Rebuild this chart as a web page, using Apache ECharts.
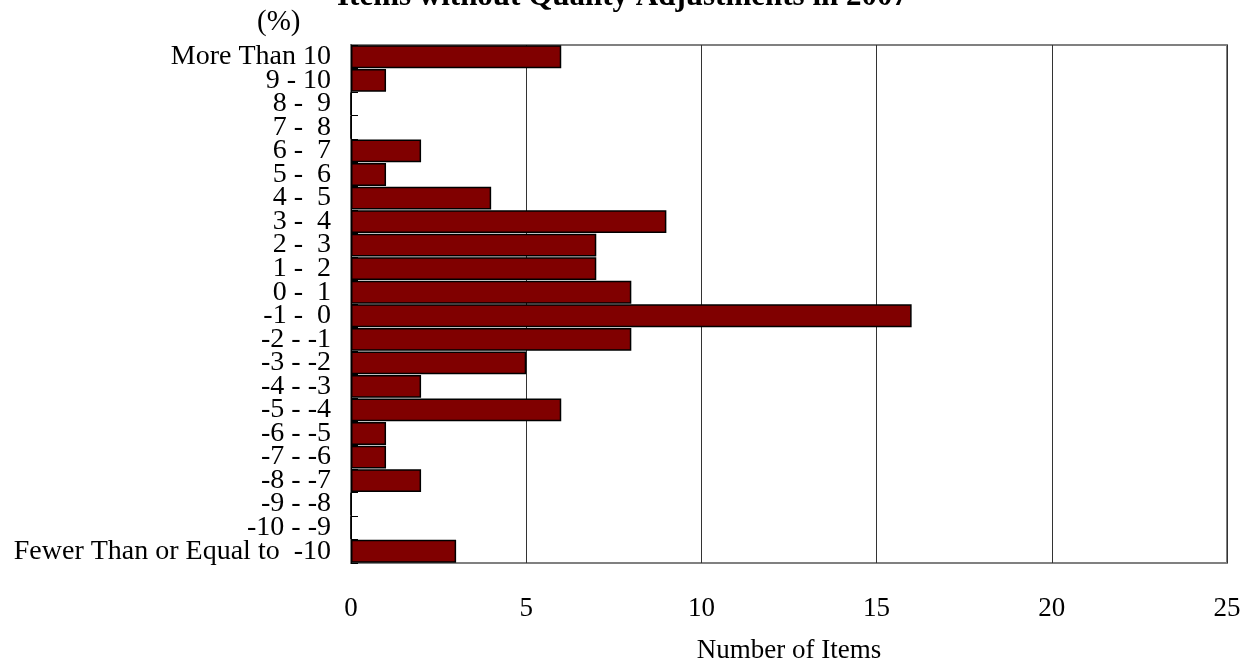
<!DOCTYPE html>
<html>
<head>
<meta charset="utf-8">
<script src="https://cdn.jsdelivr.net/npm/echarts@6/dist/echarts.min.js"></script>
<style>
html,body{margin:0;padding:0;background:#fff;}
#c{width:1245px;height:664px;}
</style>
</head>
<body>
<div id="c"></div>
<script>
const titleText = 'Items without Quality Adjustments in 2007';
const categories = ['More Than 10', '9 - 10', '8 -  9', '7 -  8', '6 -  7', '5 -  6', '4 -  5', '3 -  4', '2 -  3', '1 -  2', '0 -  1', '-1 -  0', '-2 - -1', '-3 - -2', '-4 - -3', '-5 - -4', '-6 - -5', '-7 - -6', '-8 - -7', '-9 - -8', '-10 - -9', 'Fewer Than or Equal to  -10'];
const counts = [6, 1, 0, 0, 2, 1, 4, 9, 7, 7, 8, 16, 8, 5, 2, 6, 1, 1, 2, 0, 0, 3];
const xMin = 0, xMax = 25, xStep = 5;

const serif = 'Liberation Serif, Times New Roman, serif';
const chart = echarts.init(document.getElementById('c'));
chart.setOption({
  backgroundColor: '#fff',
  animation: false,
  title: {
    text: titleText,
    left: 'center',
    top: -24,
    textStyle: {fontFamily: serif, fontSize: 31, fontWeight: 'bold', color: '#000'}
  },
  graphic: [{
    type: 'text', left: 257, top: 8,
    style: {text: '(%)', font: '29px ' + serif, fill: '#000'}
  }],
  grid: {left: 351, right: 18, top: 45, bottom: 101, show: true, borderColor: '#808080', borderWidth: 2, containLabel: false, outerBoundsMode: 'none'},
  xAxis: {
    type: 'value', min: xMin, max: xMax, interval: xStep,
    name: 'Number of Items', nameLocation: 'middle', nameGap: 74,
    nameTextStyle: {fontFamily: serif, fontSize: 27, color: '#000'},
    axisLine: {show: true, lineStyle: {color: '#808080', width: 1}},
    axisTick: {show: false},
    axisLabel: {fontFamily: serif, fontSize: 27, color: '#000', margin: 32},
    splitLine: {show: true, lineStyle: {color: '#333', width: 1}}
  },
  yAxis: {
    type: 'category', data: categories, inverse: true, z: 1,
    axisLine: {show: true, lineStyle: {color: '#000', width: 1}},
    axisTick: {show: true, inside: true, length: 7, alignWithLabel: false, lineStyle: {color: '#000'}},
    axisLabel: {fontFamily: serif, fontSize: 28, color: '#000', margin: 20, interval: 0, lineHeight: 24},
    splitLine: {show: false}
  },
  series: [{
    type: 'bar', data: counts, barCategoryGap: '3%',
    itemStyle: {color: '#800000', borderColor: '#000', borderWidth: 1.5},
    z: 5
  }]
});
</script>
</body>
</html>
